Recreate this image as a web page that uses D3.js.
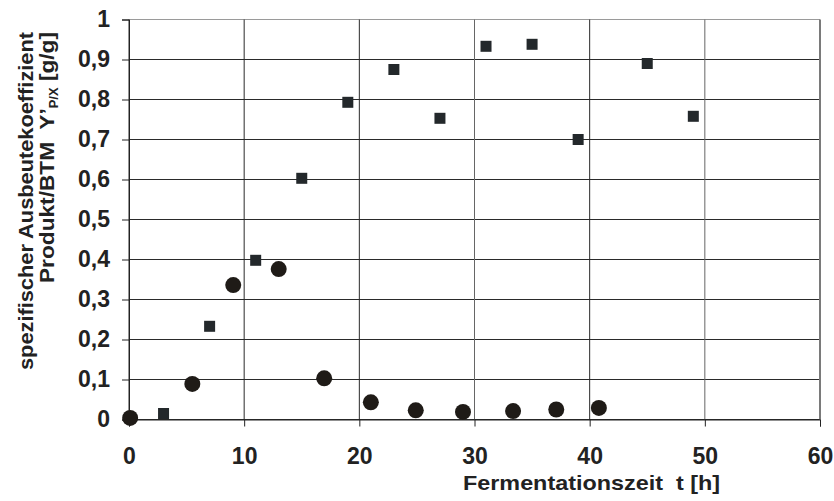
<!DOCTYPE html>
<meta charset="utf-8">
<style>
  body { margin: 0; background: #fff; }
  svg { font-family: "Liberation Sans", Arial, sans-serif; font-weight: bold; }
  .grid line { stroke: #2a2a2a; stroke-width: 1; }
  .axis text { font-size: 23px; fill: #222; font-weight: bold; }
  .axis path, .axis line { stroke: #222; }
  .title { font-size: 21px; fill: #222; white-space: pre; }
</style>
<svg width="834" height="501"></svg>
<script src="https://d3js.org/d3.v7.min.js"></script>
<script>
var svg = d3.select("svg");

// squares
var squareTime  = [3, 7, 11, 15, 19, 23, 27, 31, 35, 39, 45, 49];
var squareYield = [0.015, 0.233, 0.398, 0.603, 0.793, 0.875, 0.753, 0.933, 0.938, 0.70, 0.890, 0.758];

// circles
var circleTime  = [0.1, 5.5, 9.05, 13, 16.95, 21, 24.9, 29, 33.35, 37.1, 40.8];
var circleYield = [0.004, 0.089, 0.336, 0.376, 0.103, 0.043, 0.023, 0.019, 0.021, 0.025, 0.029];

var xTicks = [0, 10, 20, 30, 40, 50, 60];
var yTicks = [0, 0.1, 0.2, 0.3, 0.4, 0.5, 0.6, 0.7, 0.8, 0.9, 1];

var x = d3.scaleLinear().domain([0, 60]).range([129, 820]);
var y = d3.scaleLinear().domain([0, 1]).range([419.5, 19.5]);

//grid lines
var grid = svg.append("g").attr("class", "grid");
grid.selectAll(".h").data(yTicks).enter().append("line")
    .attr("x1", x(0)).attr("x2", x(60))
    .attr("y1", d => y(d)).attr("y2", d => y(d))
    .style("stroke", d => d === 1 ? "#9a9a9a" : null);
grid.selectAll(".v").data(xTicks).enter().append("line")
    .attr("y1", y(0)).attr("y2", y(1))
    .attr("x1", d => x(d)).attr("x2", d => x(d))
    .style("stroke", d => d === 60 ? "#7a7a7a" : (d === 30 || d === 50) ? "#666" : null)
    .style("stroke-width", d => d === 60 ? 2 : null);

var fmt = d => String(d).replace(".", ",");

svg.append("g").attr("class", "axis")
   .attr("transform", "translate(" + x(0) + ",0)")
   .call(d3.axisLeft(y).tickValues(yTicks).tickFormat(fmt).tickSizeOuter(0).tickSize(7).tickPadding(12));

svg.append("g").attr("class", "axis")
   .attr("transform", "translate(0," + y(0) + ")")
   .call(d3.axisBottom(x).tickValues(xTicks).tickFormat(fmt).tickSizeOuter(0).tickSize(7).tickPadding(21));

svg.selectAll(".axis .domain").attr("stroke", "#222");

//points
var squares = squareTime.map((t, i) => ({t: t, v: squareYield[i]}));
var circles = circleTime.map((t, i) => ({t: t, v: circleYield[i]}));
var s = 11;
svg.append("g").selectAll("rect").data(squares).enter().append("rect")
   .attr("x", d => x(d.t) - s / 2).attr("y", d => y(d.v) - s / 2)
   .attr("width", s).attr("height", s).attr("fill", "#23282b");
svg.append("g").selectAll("circle").data(circles).enter().append("circle")
   .attr("cx", d => x(d.t)).attr("cy", d => y(d.v))
   .attr("r", 8).attr("fill", "#1f1b17");

//titles
svg.append("text").attr("class", "title")
   .attr("x", 463).attr("y", 490)
   .attr("textLength", 257).attr("lengthAdjust", "spacingAndGlyphs")
   .text("Fermentationszeit  t [h]");

var yt = svg.append("g").attr("transform", "translate(0,32) rotate(-90)");
yt.append("text").attr("class", "title")
  .attr("x", -338).attr("y", 33)
  .attr("textLength", 338).attr("lengthAdjust", "spacingAndGlyphs")
  .text("spezifischer Ausbeutekoeffizient");
var l2 = yt.append("text").attr("class", "title")
  .attr("x", -251).attr("y", 54)
  .attr("textLength", 251).attr("lengthAdjust", "spacingAndGlyphs");
l2.append("tspan").text("Produkt/BTM  Y’");
l2.append("tspan").attr("font-size", 12).attr("dy", 4).text("P/X");
l2.append("tspan").attr("dy", -4).text(" [g/g]");
</script>
